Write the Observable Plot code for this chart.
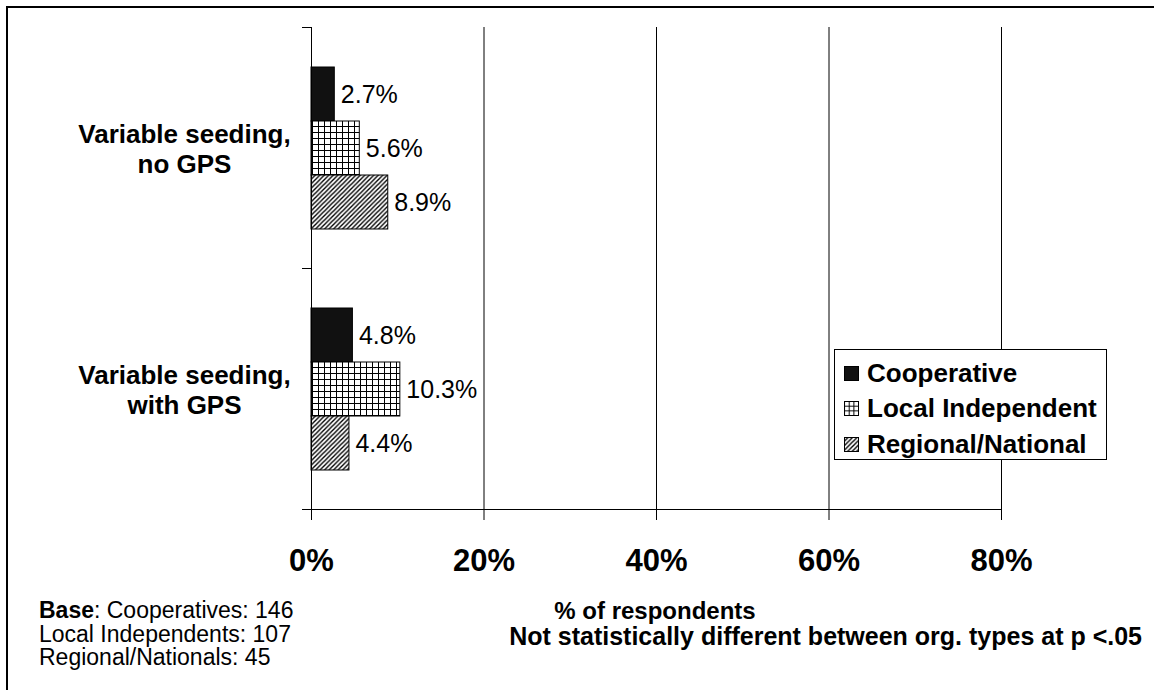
<!DOCTYPE html>
<html><head><meta charset="utf-8">
<script src="https://cdn.jsdelivr.net/npm/d3@7"></script>
<script src="https://cdn.jsdelivr.net/npm/@observablehq/plot@0.6"></script>
<style>
html,body{margin:0;padding:0;background:#fff;}
#wrap{position:relative;width:1154px;height:690px;overflow:hidden;font-family:"Liberation Sans",Arial,Helvetica,sans-serif;color:#000;background:#fff;}
#border{position:absolute;left:6px;top:6px;width:1200px;height:700px;border-top:2px solid #000;border-left:2px solid #000;}
#chart{position:absolute;left:0;top:0;}
#notes{position:absolute;left:0;top:0;pointer-events:none;}
#legend{position:absolute;left:834px;top:349px;width:273px;height:111px;box-sizing:border-box;border:1px solid #000;background:#fff;}
.row{position:absolute;left:9px;display:flex;align-items:center;height:30px;font-weight:bold;font-size:26px;white-space:nowrap;}
.row svg{margin-right:8px;flex:none;}
</style>
</head><body>
<div id="wrap">
<div id="border"></div>
<svg width="0" height="0" style="position:absolute">
<defs>
<pattern id="grid" patternUnits="userSpaceOnUse" width="6" height="6"><rect width="6" height="6" fill="#fff"/><path d="M0,0.5H6M0.5,0V6" stroke="#000" stroke-width="1"/></pattern>
<pattern id="gridS" patternUnits="userSpaceOnUse" width="4.7" height="4.7"><rect width="4.7" height="4.7" fill="#fff"/><path d="M0,0.5H4.7M0.5,0V4.7" stroke="#000" stroke-width="1"/></pattern>
<pattern id="hatch" patternUnits="userSpaceOnUse" width="4.5" height="4.5"><rect width="4.5" height="4.5" fill="#fff"/><path d="M-1,1L1,-1M0,4.5L4.5,0M3.5,5.5L5.5,3.5" stroke="#000" stroke-width="1.4"/></pattern>
</defs></svg>
<div id="chart"></div>
<svg id="notes" width="1154" height="690"></svg>
<div id="legend"></div>
</div>
<script>
// ---- data ----
const categories = ["Variable seeding, no GPS", "Variable seeding, with GPS"];
const categoryLabels = ["Variable seeding,\nno GPS", "Variable seeding,\nwith GPS"];
const orgTypes = ["Cooperative", "Local Independent", "Regional/National"];
const cooperative = [2.7, 4.8];
const localIndependent = [5.6, 10.3];
const regionalNational = [8.9, 4.4];
const xTicks = [0, 20, 40, 60, 80];
const gridTicks = [20, 40, 60, 80];
const baseCounts = ["Cooperatives: 146", "Local Independents: 107", "Regional/Nationals: 45"];
const xTitle = "% of respondents";
const note = "Not statistically different between org. types at p <.05";

const fills = ["#111", "url(#grid)", "url(#hatch)"];
const legendFills = ["#111", "url(#gridS)", "url(#hatch)"];
const seriesValues = [cooperative, localIndependent, regionalNational];

const rows = [];
categories.forEach((c, i) => {
  orgTypes.forEach((o, j) => rows.push({category: c, org: o, value: seriesValues[j][i]}));
});
const labelOf = new Map(categories.map((c, i) => [c, categoryLabels[i]]));

const chart = Plot.plot({
  width: 1154,
  height: 590,
  marginLeft: 311,
  marginRight: 153,
  marginTop: 27,
  marginBottom: 81,
  style: {fontFamily: '"Liberation Sans", Arial, sans-serif', color: "#000", background: "transparent", overflow: "visible"},
  x: {domain: [0, 80], label: null},
  y: {domain: orgTypes, paddingInner: 0, paddingOuter: 0.73, axis: null, label: null},
  fy: {domain: categories, padding: 0, axis: null, label: null},
  color: {domain: orgTypes, range: fills},
  marks: [
    Plot.ruleX(gridTicks, {stroke: "#000", strokeWidth: 1}),
    Plot.barX(rows, {x: "value", y: "org", fy: "category", fill: "org", stroke: "#000", strokeWidth: 1}),
    Plot.text(rows, {x: "value", y: "org", fy: "category", text: d => d.value.toFixed(1) + "%", dx: 6, textAnchor: "start", fontSize: 25, fill: "#000"}),
    Plot.text(categories, {fy: d => d, text: d => labelOf.get(d), frameAnchor: "left", dx: -127, textAnchor: "middle", fontSize: 26, fontWeight: "bold", lineHeight: 1.15, fill: "#000"}),
    Plot.ruleX([0], {stroke: "#000", strokeWidth: 1}),
    Plot.frame({anchor: "top", insetLeft: -9, insetRight: 690, stroke: "#000"}),
    Plot.frame({facet: "super", anchor: "bottom", insetLeft: -9, stroke: "#000"}),
    Plot.axisX(xTicks, {tickSize: 11, tickPadding: 28, tickFormat: d => d + "%", fontSize: 31, fontWeight: "bold", label: null, stroke: "#000", fill: "#000"})
  ]
});
document.getElementById("chart").appendChild(chart);

// ---- notes below the chart ----
const notes = d3.select("#notes").style("font-family", '"Liberation Sans", Arial, sans-serif');
const baseY = [618, 641.5, 665];
baseCounts.forEach((t, i) => {
  const tx = notes.append("text").attr("x", 39).attr("y", baseY[i]).attr("font-size", 23).attr("fill", "#000");
  if (i === 0) {
    tx.append("tspan").attr("font-weight", "bold").text("Base");
    tx.append("tspan").text(": " + t);
  } else tx.text(t);
});
notes.append("text").attr("x", 655).attr("y", 619).attr("text-anchor", "middle").attr("font-size", 24).attr("font-weight", "bold").text(xTitle);
notes.append("text").attr("x", 1142).attr("y", 645).attr("text-anchor", "end").attr("font-size", 25).attr("font-weight", "bold").text(note);

// ---- legend ----
const legend = d3.select("#legend");
const rowTops = [8, 43, 79];
orgTypes.forEach((o, i) => {
  const r = legend.append("div").attr("class", "row").style("top", rowTops[i] + "px");
  const s = r.append("svg").attr("width", 15).attr("height", 15);
  s.append("rect").attr("x", 0.5).attr("y", 0.5).attr("width", 14).attr("height", 14).attr("fill", legendFills[i]).attr("stroke", "#000");
  r.append("span").text(o);
});
</script>
</body></html>
